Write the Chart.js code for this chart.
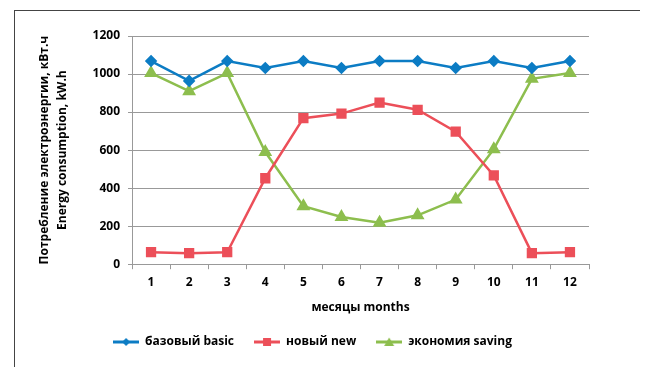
<!DOCTYPE html>
<html>
<head>
<meta charset="utf-8">
<script src="https://cdn.jsdelivr.net/npm/chart.js@4.4.1/dist/chart.umd.min.js"></script>
<style>
  html, body { margin: 0; padding: 0; background: #fff; }
  #wrap { position: relative; width: 648px; height: 367px; }
  #frame { position: absolute; left: 14px; top: 10px; width: 625px; height: 360px;
           border-left: 1px solid #444; border-top: 1px solid #444; }
  canvas { position: absolute; left: 0; top: 0; }
</style>
</head>
<body>
<div id="wrap">
  <div id="frame"></div>
  <canvas id="chart" width="648" height="367"></canvas>
</div>
<script>
const months = ['1', '2', '3', '4', '5', '6', '7', '8', '9', '10', '11', '12'];
const basic = [1068, 964, 1068, 1032, 1068, 1032, 1068, 1068, 1032, 1068, 1032, 1068];
const newer = [63, 58, 63, 452, 768, 792, 850, 812, 697, 467, 58, 63];
const saving = [1005, 910, 1005, 590, 305, 248, 218, 257, 340, 605, 975, 1005];
const yTicks = [0, 200, 400, 600, 800, 1000, 1200];

const blue = '#0C7CC4';
const red = '#EC4F59';
const green = '#8DBE4E';
const font = 'Open Sans';

// small line + marker image for legend entries
function legendIcon(color, shape) {
  const c = document.createElement('canvas');
  c.width = 26; c.height = 12;
  const ctx = c.getContext('2d');
  ctx.strokeStyle = color;
  ctx.lineWidth = 3;
  ctx.beginPath();
  ctx.moveTo(0, 6); ctx.lineTo(26, 6);
  ctx.stroke();
  ctx.fillStyle = color;
  ctx.beginPath();
  if (shape === 'diamond') {
    ctx.moveTo(13, 2); ctx.lineTo(17, 6); ctx.lineTo(13, 10); ctx.lineTo(9, 6);
  } else if (shape === 'square') {
    ctx.rect(9, 2, 8, 8);
  } else {
    ctx.moveTo(13, 1.5); ctx.lineTo(18, 10); ctx.lineTo(8, 10);
  }
  ctx.closePath();
  ctx.fill();
  return c;
}

const ctx = document.getElementById('chart').getContext('2d');
new Chart(ctx, {
  type: 'line',
  data: {
    labels: months,
    datasets: [
      {
        label: 'базовый basic',
        data: basic,
        borderColor: blue,
        backgroundColor: blue,
        borderWidth: 2.5,
        pointStyle: 'rectRot',
        pointRadius: 4.5,
        pointHoverRadius: 4.5,
        legendIcon: legendIcon(blue, 'diamond')
      },
      {
        label: 'новый new',
        data: newer,
        borderColor: red,
        backgroundColor: red,
        borderWidth: 2.5,
        pointStyle: 'rect',
        pointRadius: 5.5,
        pointHoverRadius: 5.5,
        legendIcon: legendIcon(red, 'square')
      },
      {
        label: 'экономия saving',
        data: saving,
        borderColor: green,
        backgroundColor: green,
        borderWidth: 2.5,
        pointStyle: 'triangle',
        pointRadius: 5.5,
        pointHoverRadius: 5.5,
        legendIcon: legendIcon(green, 'triangle')
      }
    ]
  },
  options: {
    responsive: false,
    animation: false,
    layout: { padding: { left: 36, right: 59, top: 36, bottom: 9 } },
    plugins: {
      tooltip: { enabled: false },
      legend: {
        position: 'bottom',
        labels: {
          usePointStyle: true,
          pointStyleWidth: 26,
          padding: 20,
          color: '#000',
          font: { family: font, size: 12, weight: 'bold' },
          generateLabels: (chart) => chart.data.datasets.map((ds, i) => ({
            text: ds.label,
            pointStyle: ds.legendIcon,
            fillStyle: ds.borderColor,
            strokeStyle: ds.borderColor,
            lineWidth: 0,
            hidden: false,
            datasetIndex: i
          }))
        }
      }
    },
    scales: {
      x: {
        offset: true,
        grid: { offset: true, drawOnChartArea: false, drawTicks: true, tickLength: 5, color: '#999' },
        border: { color: '#999', width: 1 },
        ticks: { color: '#000', padding: 6, font: { family: font, size: 12, weight: 'bold' } },
        title: {
          display: true,
          text: 'месяцы months',
          color: '#000',
          padding: { top: 5, bottom: 1 },
          font: { family: font, size: 12, weight: 'bold' }
        }
      },
      y: {
        min: 0,
        max: 1200,
        afterBuildTicks: (axis) => { axis.ticks = yTicks.map((v) => ({ value: v })); },
        afterFit: (axis) => { axis.width = 96; },
        grid: { color: '#999', tickLength: 4, lineWidth: 1 },
        border: { color: '#999', width: 1 },
        ticks: {
          color: '#000',
          padding: 8,
          font: { family: font, size: 12, weight: 'bold' },
          callback: (v) => String(v)
        },
        title: {
          display: true,
          text: ['Потребление электроэнергии, кВт.ч', 'Energy consumption, kW.h'],
          color: '#000',
          padding: { top: 0, bottom: 0 },
          font: { family: font, size: 12, weight: 'bold', lineHeight: 1.5 }
        }
      }
    }
  }
});
</script>
</body>
</html>
